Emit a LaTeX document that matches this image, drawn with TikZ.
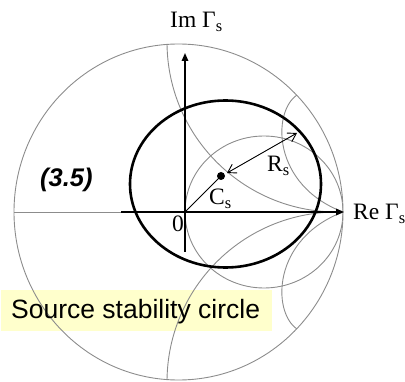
\documentclass[tikz,border=0pt]{standalone}
\usepackage{fontspec}
\setmainfont{Liberation Serif}
\newfontfamily\arialfont{Liberation Sans}
\usetikzlibrary{arrows.meta}
\definecolor{chartgray}{RGB}{140,140,140}
\definecolor{noteyellow}{RGB}{255,255,204}
\begin{document}
\begin{tikzpicture}[x=1pt,y=1pt,
  chart/.style={draw=chartgray, line width=0.9pt},
  axisline/.style={draw=black, line width=1.6pt, -{Triangle[length=8pt,width=6.5pt]}},
  thinline/.style={draw=black, line width=0.9pt},
  lbl/.style={font=\fontsize{23.5}{28}\selectfont, inner sep=0pt, anchor=base west},
]
\useasboundingbox (0,0) rectangle (405,381);
% note box
\node[fill=noteyellow, minimum width=271pt, minimum height=41pt, inner sep=0pt, anchor=south west] (box) at (1,50) {};
% Smith chart
\coordinate (center) at (178.5,169);
\coordinate (left) at (14,169);
\coordinate (right) at (343,169);
\coordinate (O) at (185,169);
\begin{scope}
  \clip (center) ellipse [x radius=164.5, y radius=168];
  \draw[chart] (left) -- (right);
  \draw[chart] (264,169) ellipse [x radius=79, y radius=76];
  \draw[chart] (337,339) circle [radius=170];
  \draw[chart] (337,-1) circle [radius=170];
  \draw[chart] (297,286) .. controls (272,269) and (272,196) .. (right);
  \draw[chart] (297,52) .. controls (272,69) and (272,142) .. (right);
\end{scope}
\draw[chart] (center) ellipse [x radius=164.5, y radius=168];
% axes
\coordinate (imbot) at (185,129);
\coordinate (imtop) at (185,328);
\coordinate (restart) at (121,169);
\coordinate (retip) at (344,169);
\draw[axisline] (imbot) -- (imtop);
\draw[axisline] (restart) -- (retip);
% stability circle
\draw[black, line width=2.6pt] (225.5,197) ellipse [x radius=95.5, y radius=83.5];
% centre and radius
\node[circle, fill=black, inner sep=0pt, minimum size=8pt] (cs) at (221,205) {};
\draw[thinline] (O) -- (cs.center);
\coordinate (ra) at (227,208);
\coordinate (rb) at (297,248);
\draw[thinline, {Straight Barb[length=8pt,width=10pt]}-{Straight Barb[length=8pt,width=10pt]}] (ra) -- (rb);
% labels
\node[lbl] (imlbl) at (170,353) {Im~Γ\textsubscript{s}};
\node[lbl] (relbl) at (353,161.5) {Re~Γ\textsubscript{s}};
\node[lbl] (rslbl) at (267,209) {R\textsubscript{s}};
\node[lbl] (cslbl) at (209,176) {C\textsubscript{s}};
\node[lbl] (zero) at (172,149) {0};
\node[inner sep=0pt, anchor=base west, font=\arialfont\bfseries\itshape\fontsize{25.5}{30}\selectfont] (eq) at (40,194) {(3.5)};
\node[inner sep=0pt, anchor=base west, font=\arialfont\fontsize{26.5}{32}\selectfont] (note) at (11,63) {Source stability circle};
\end{tikzpicture}
\end{document}
